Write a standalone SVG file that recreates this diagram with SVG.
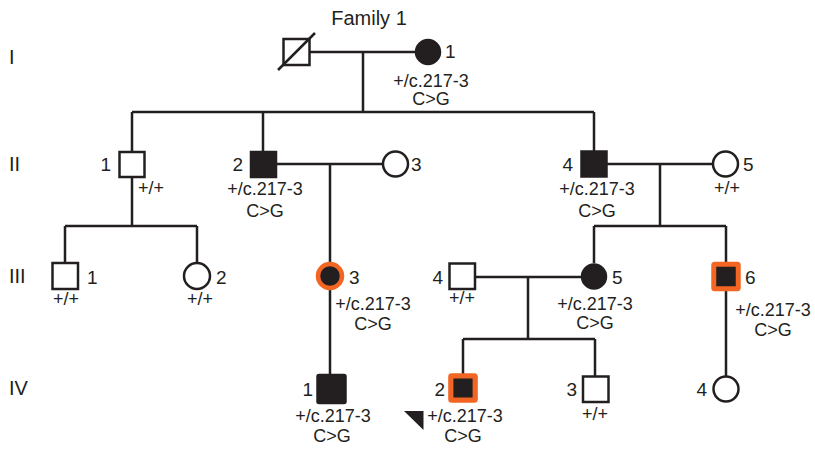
<svg xmlns="http://www.w3.org/2000/svg" width="815" height="449" viewBox="0 0 815 449">
<style>
text{font-family:"Liberation Sans",Arial,Helvetica,sans-serif;fill:#231f20}
.t{font-size:20px}
.n{font-size:19px}
.g{font-size:18px;text-anchor:middle}
.e{text-anchor:end}
.m{text-anchor:middle}
.ln{stroke:#231f20;stroke-width:2.5;fill:none}
.u{fill:#fff;stroke:#231f20;stroke-width:2.5}
.a{fill:#231f20;stroke:#231f20;stroke-width:2.5}
.o{fill:#231f20;stroke:#f26522}
</style>
<rect width="815" height="449" fill="#fff"/>
<text class="t m" x="369" y="25">Family 1</text>
<g id="gen-labels">
<text class="t" x="9" y="64">I</text>
<text class="t" x="9" y="171">II</text>
<text class="t" x="9" y="283">III</text>
<text class="t" x="9" y="395">IV</text>
</g>
<g id="connectors" class="ln">
<path d="M309 52H415M363 52V112M132 112H594M132 112V152M263 112V152M594 112V151"/>
<path d="M132 177V226M65 226H197M65 226V263M197 226V263"/>
<path d="M276 164H383M330 164V264"/>
<path d="M607 164H713M660 164V226M594 226H726M594 226V263M726 226V262"/>
<path d="M475 277H581M528 277V339M463 339H595M463 339V374M595 339V376"/>
<path d="M330 288V374M726 291V376"/>
</g>
<g id="I-1">
<rect class="u" x="283.5" y="39" width="26" height="26"/>
<line class="ln" x1="278" y1="70" x2="315" y2="33"/>
</g>
<g id="I-2">
<circle class="a" cx="428" cy="52" r="12"/>
<text class="n" x="445" y="58">1</text>
<text class="g" x="431" y="86.5">+/c.217-3</text>
<text class="g" x="431" y="105">C&gt;G</text>
</g>
<g id="II-1">
<rect class="u" x="119.5" y="152" width="25" height="25"/>
<text class="n e" x="111" y="171">1</text>
<text class="g" x="151" y="194">+/+</text>
</g>
<g id="II-2">
<rect class="a" x="251" y="152" width="25" height="25"/>
<text class="n e" x="243" y="171">2</text>
<text class="g" x="265" y="195">+/c.217-3</text>
<text class="g" x="265" y="217">C&gt;G</text>
</g>
<g id="II-3">
<circle class="u" cx="395.5" cy="164" r="12.5"/>
<text class="n" x="411" y="171">3</text>
</g>
<g id="II-4">
<rect class="a" x="581.5" y="151.5" width="25" height="25"/>
<text class="n e" x="573" y="171">4</text>
<text class="g" x="597" y="195">+/c.217-3</text>
<text class="g" x="597" y="216.5">C&gt;G</text>
</g>
<g id="II-5">
<circle class="u" cx="725.5" cy="164" r="12.5"/>
<text class="n" x="743" y="171">5</text>
<text class="g" x="727" y="194">+/+</text>
</g>
<g id="III-1">
<rect class="u" x="52.5" y="263" width="25.5" height="26"/>
<text class="n" x="87" y="283.5">1</text>
<text class="g" x="66" y="305">+/+</text>
</g>
<g id="III-2">
<circle class="u" cx="197" cy="276" r="13"/>
<text class="n" x="216" y="283.5">2</text>
<text class="g" x="200" y="305">+/+</text>
</g>
<g id="III-3">
<circle class="o" cx="330" cy="276" r="12" stroke-width="4.5"/>
<text class="n" x="349" y="283.5">3</text>
<text class="g" x="373" y="310">+/c.217-3</text>
<text class="g" x="373" y="330">C&gt;G</text>
</g>
<g id="III-4">
<rect class="u" x="449.5" y="263.5" width="25.5" height="25.5"/>
<text class="n e" x="443" y="283.5">4</text>
<text class="g" x="462" y="304">+/+</text>
</g>
<g id="III-5">
<circle class="a" cx="594" cy="276.5" r="12"/>
<text class="n" x="612" y="283.5">5</text>
<text class="g" x="595" y="310">+/c.217-3</text>
<text class="g" x="595" y="329">C&gt;G</text>
</g>
<g id="III-6">
<rect class="o" x="713.75" y="264.25" width="24.5" height="24.5" stroke-width="5" rx="1"/>
<text class="n" x="745" y="284">6</text>
<text class="g" x="773" y="316">+/c.217-3</text>
<text class="g" x="773" y="336">C&gt;G</text>
</g>
<g id="IV-1">
<rect class="a" x="317.5" y="375" width="28" height="28" rx="1.5"/>
<text class="n e" x="313" y="396">1</text>
<text class="g" x="333" y="421.5">+/c.217-3</text>
<text class="g" x="332" y="441.5">C&gt;G</text>
</g>
<g id="IV-2">
<rect class="o" x="450.8" y="375.8" width="24.4" height="24.4" stroke-width="5.2" rx="1"/>
<text class="n e" x="445" y="396">2</text>
<text class="g" x="465" y="421.5">+/c.217-3</text>
<text class="g" x="463" y="441.5">C&gt;G</text>
<polygon points="404,411 423.5,411 423.5,430" fill="#231f20"/>
</g>
<g id="IV-3">
<rect class="u" x="583" y="376.5" width="25.5" height="25.5"/>
<text class="n e" x="577" y="396">3</text>
<text class="g" x="595" y="420">+/+</text>
</g>
<g id="IV-4">
<circle class="u" cx="726" cy="389" r="12.5"/>
<text class="n e" x="707" y="396">4</text>
</g>
</svg>
